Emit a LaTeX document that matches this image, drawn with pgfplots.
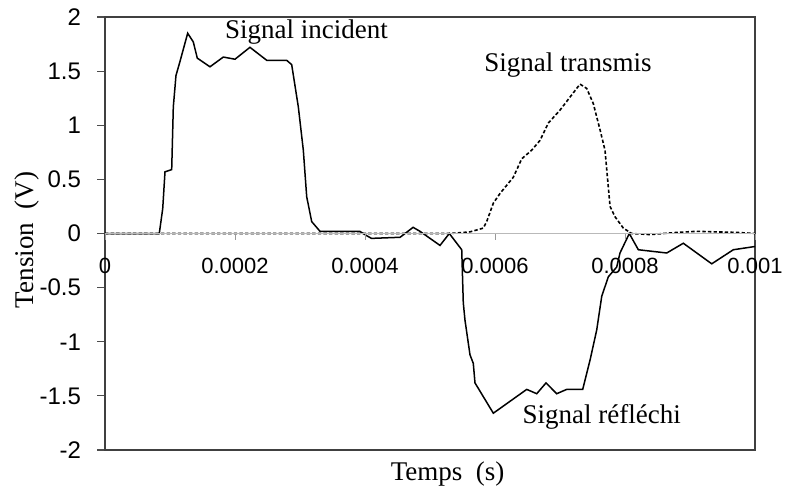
\documentclass[border=0pt]{standalone}
\usepackage{fontspec}
\setmainfont{Liberation Serif}
\newfontfamily\arial{Liberation Sans}
\usepackage{pgfplots}
\pgfplotsset{compat=1.18}
\begin{document}
\begin{tikzpicture}
\pgfplotsset{
  common/.style={width=325pt, height=216.5pt, scale only axis,
    xmin=0, xmax=0.001, ymin=-2, ymax=2, scaled x ticks=false, scaled y ticks=false},
}
\begin{axis}[common, name=ax,
  axis line style={black!75, line width=0.7pt},
  xtick=\empty,
  ytick={-2,-1.5,-1,-0.5,0,0.5,1,1.5,2},
  yticklabels={-2,-1.5,-1,-0.5,0,0.5,1,1.5,2},
  ytick pos=left, tick align=outside, major tick length=4pt,
  y tick style={black!70, line width=0.6pt},
  yticklabel style={font=\arial\fontsize{12}{14}\selectfont, xshift=-4.5pt},
  xlabel={Temps~~(s)}, ylabel={Tension~~(V)},
  every axis x label/.style={at={(axis description cs:0.527,0)}, anchor=base, yshift=-15pt, font=\fontsize{13.5}{16}\selectfont},
  every axis y label/.style={at={(axis description cs:-0.12,0.485)}, rotate=90, anchor=center, font=\fontsize{13.5}{16}\selectfont},
  clip=false,
]
\addplot[black, line width=0.75pt] coordinates {
(0,0) (0.0000835,0) (0.0000888,0.23) (0.0000923,0.57) (0.0001026,0.59)
(0.0001051,1.17) (0.0001092,1.46) (0.0001154,1.59) (0.0001272,1.85)
(0.0001358,1.77) (0.000142,1.62) (0.0001615,1.54) (0.000182,1.63)
(0.0002,1.61) (0.000223,1.72) (0.0002488,1.60) (0.0002795,1.60)
(0.0002872,1.56) (0.0002974,1.17) (0.0003051,0.77) (0.0003103,0.34)
(0.000318,0.11) (0.0003308,0.02) (0.000392,0.02) (0.0004026,-0.02)
(0.00041,-0.045) (0.000454,-0.035) (0.000474,0.057) (0.0004846,0.02)
(0.0005154,-0.11) (0.0005297,0) (0.0005488,-0.15) (0.0005512,-0.64)
(0.0005538,-0.80) (0.0005615,-1.12) (0.0005666,-1.20) (0.0005692,-1.38)
(0.0005974,-1.66) (0.0006488,-1.44) (0.0006642,-1.48) (0.0006785,-1.38)
(0.0006949,-1.48) (0.0007103,-1.44) (0.0007349,-1.44) (0.0007462,-1.17)
(0.0007565,-0.89) (0.0007642,-0.58) (0.0007743,-0.40) (0.0007872,-0.31)
(0.0007923,-0.18) (0.0008066,0) (0.0008205,-0.15) (0.0008642,-0.18)
(0.0008897,-0.09) (0.0009334,-0.28) (0.0009666,-0.15) (0.001,-0.12)
};
\addplot[black, line width=0.8pt, dash pattern=on 1.7pt off 1.1pt] coordinates {
(0,0) (0.0005308,0) (0.0005615,0.015) (0.000582,0.05) (0.0005872,0.11)
(0.0005974,0.28) (0.0006077,0.37) (0.0006282,0.52) (0.0006411,0.69)
(0.0006565,0.77) (0.0006692,0.86) (0.000682,1.02) (0.0007,1.14)
(0.0007205,1.30) (0.0007308,1.38) (0.0007411,1.34) (0.0007512,1.20)
(0.0007615,0.96) (0.0007692,0.77) (0.000777,0.25) (0.0007846,0.155)
(0.0007974,0.05) (0.0008103,0) (0.0008385,-0.01) (0.0008795,0.01)
(0.00091,0.02) (0.000972,0.01) (0.001,0)
};
\node[anchor=base, font=\fontsize{13.5}{16}\selectfont] at (axis cs:0.00031,1.797) {Signal incident};
\node[anchor=base, font=\fontsize{13.5}{16}\selectfont] at (axis cs:0.0007123,1.495) {Signal transmis};
\node[anchor=base, font=\fontsize{13.5}{16}\selectfont] at (axis cs:0.0007641,-1.753) {Signal réfléchi};
\end{axis}
\begin{axis}[common, at={(ax.south west)}, anchor=south west,
  axis x line=middle, axis y line=none,
  x axis line style={gray!55, line width=0.6pt, -},
  xtick={0,0.0002,0.0004,0.0006,0.0008,0.001},
  xticklabels={0,0.0002,0.0004,0.0006,0.0008,0.001},
  hide obscured x ticks=false,
  xtick align=outside, major tick length=3pt,
  x tick style={gray!80, line width=0.5pt},
  xticklabel style={font=\arial\fontsize{11}{13}\selectfont, anchor=north, yshift=-6pt},
]
\end{axis}
\pgfresetboundingbox
\path (ax.south west) ++(-52.5pt,-19pt) rectangle ++(392.5pt,244pt);
\end{tikzpicture}
\end{document}
